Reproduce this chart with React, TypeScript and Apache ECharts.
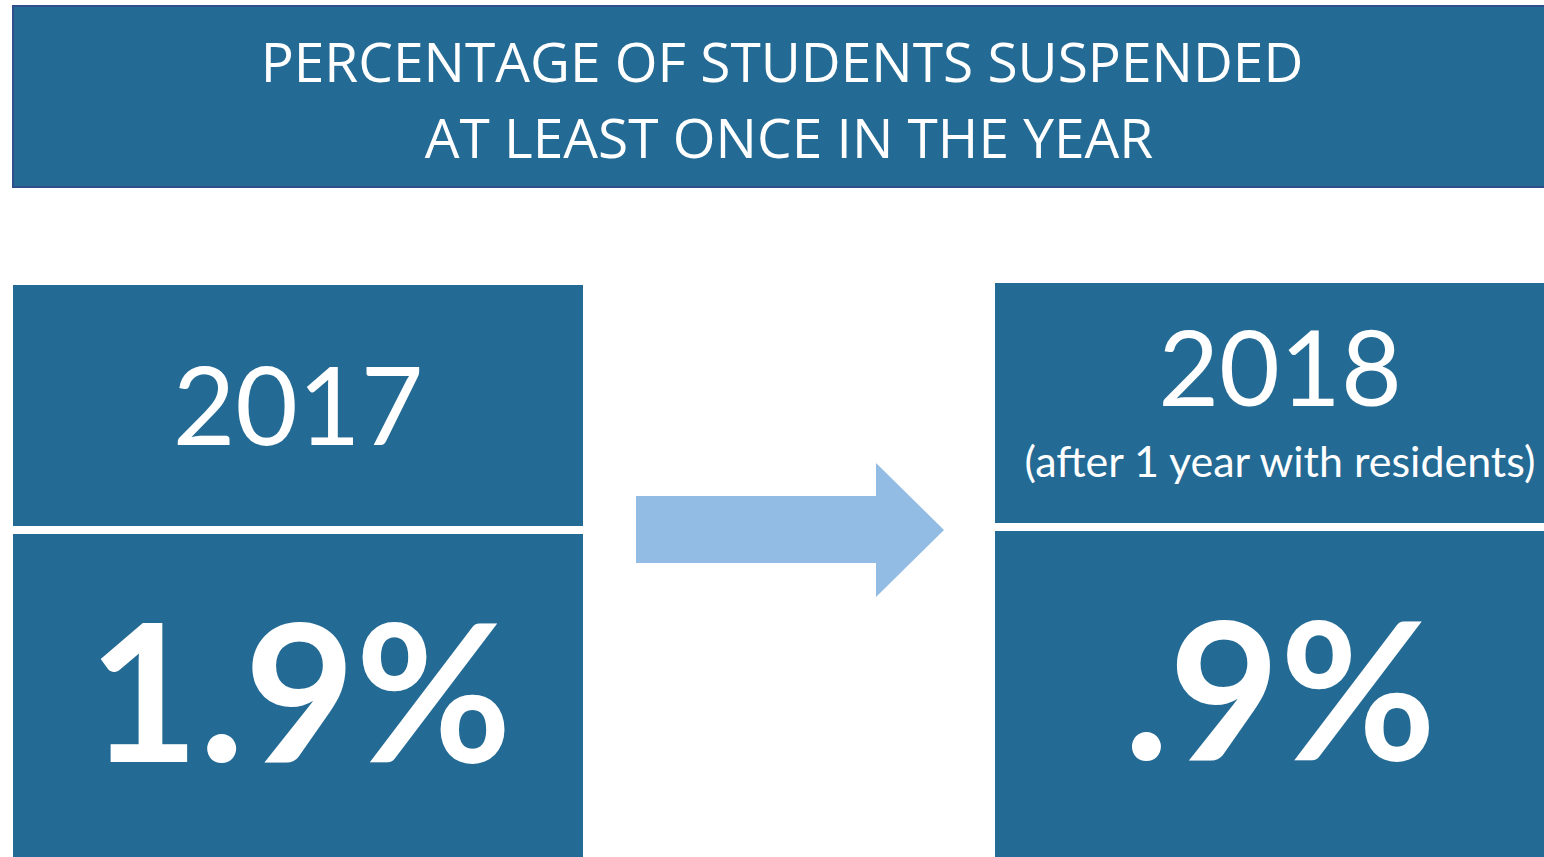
import React, { useEffect, useRef } from "react";
import * as echarts from "echarts";

const titleLines = ["PERCENTAGE OF STUDENTS SUSPENDED", "AT LEAST ONCE IN THE YEAR"];
const years = ["2017", "2018"];
const subtitles = ["", "(after 1 year with residents)"];
const values = ["1.9%", ".9%"];

const BOX = "#236a94";
const BORDER = "#2f4e8c";
const ARROW = "#92bce3";

export default function App() {
  const ref = useRef<HTMLDivElement>(null);
  useEffect(() => {
    document.body.style.margin = "0";
    const chart = echarts.init(ref.current!, undefined, { renderer: "svg" });
    const panels = [
      { x: 13, y: 285, w: 570, split: 526, cx: 298, yearY: 403, yearSize: 108, valX: 300, valY: 688 },
      { x: 995, y: 283, w: 549, split: 523, cx: 1280, yearY: 365, yearSize: 105, valX: 1280, valY: 686 },
    ];
    const elements: any[] = [
      {
        type: "rect",
        shape: { x: 13, y: 6, width: 1540, height: 181 },
        style: { fill: BOX, stroke: BORDER, lineWidth: 2 },
      },
      ...titleLines.map((t, i) => ({
        type: "text",
        x: i === 0 ? 782 : 789,
        y: i === 0 ? 60 : 136,
        style: {
          text: t,
          fill: "#ffffff",
          font: "55px 'Open Sans', sans-serif",
          textAlign: "center",
          textVerticalAlign: "middle",
        },
      })),
    ];
    panels.forEach((p, i) => {
      elements.push({
        type: "rect",
        shape: { x: p.x, y: p.y, width: p.w, height: p.split - p.y },
        style: { fill: BOX },
      });
      elements.push({
        type: "rect",
        shape: { x: p.x, y: p.split + 8, width: p.w, height: 857 - p.split - 8 },
        style: { fill: BOX },
      });
      elements.push({
        type: "text",
        x: p.cx,
        y: p.yearY,
        style: {
          text: years[i],
          fill: "#ffffff",
          font: `${p.yearSize}px Lato, sans-serif`,
          textAlign: "center",
          textVerticalAlign: "middle",
        },
      });
      if (subtitles[i]) {
        elements.push({
          type: "text",
          x: p.cx,
          y: 460,
          style: {
            text: subtitles[i],
            fill: "#ffffff",
            font: "43px Lato, sans-serif",
            textAlign: "center",
            textVerticalAlign: "middle",
          },
        });
      }
      elements.push({
        type: "text",
        x: p.valX,
        y: p.valY,
        style: {
          text: values[i],
          fill: "#ffffff",
          font: "bold 191px Lato, sans-serif",
          textAlign: "center",
          textVerticalAlign: "middle",
        },
      });
    });
    elements.push({
      type: "polygon",
      shape: {
        points: [
          [636, 496],
          [876, 496],
          [876, 463],
          [944, 530],
          [876, 597],
          [876, 563],
          [636, 563],
        ],
      },
      style: { fill: ARROW },
    });
    chart.setOption({
      animation: false,
      backgroundColor: "#ffffff",
      graphic: { elements },
    });
    return () => chart.dispose();
  }, []);
  return <div ref={ref} style={{ position: "fixed", left: 0, top: 0, width: 1544, height: 857 }} />;
}
